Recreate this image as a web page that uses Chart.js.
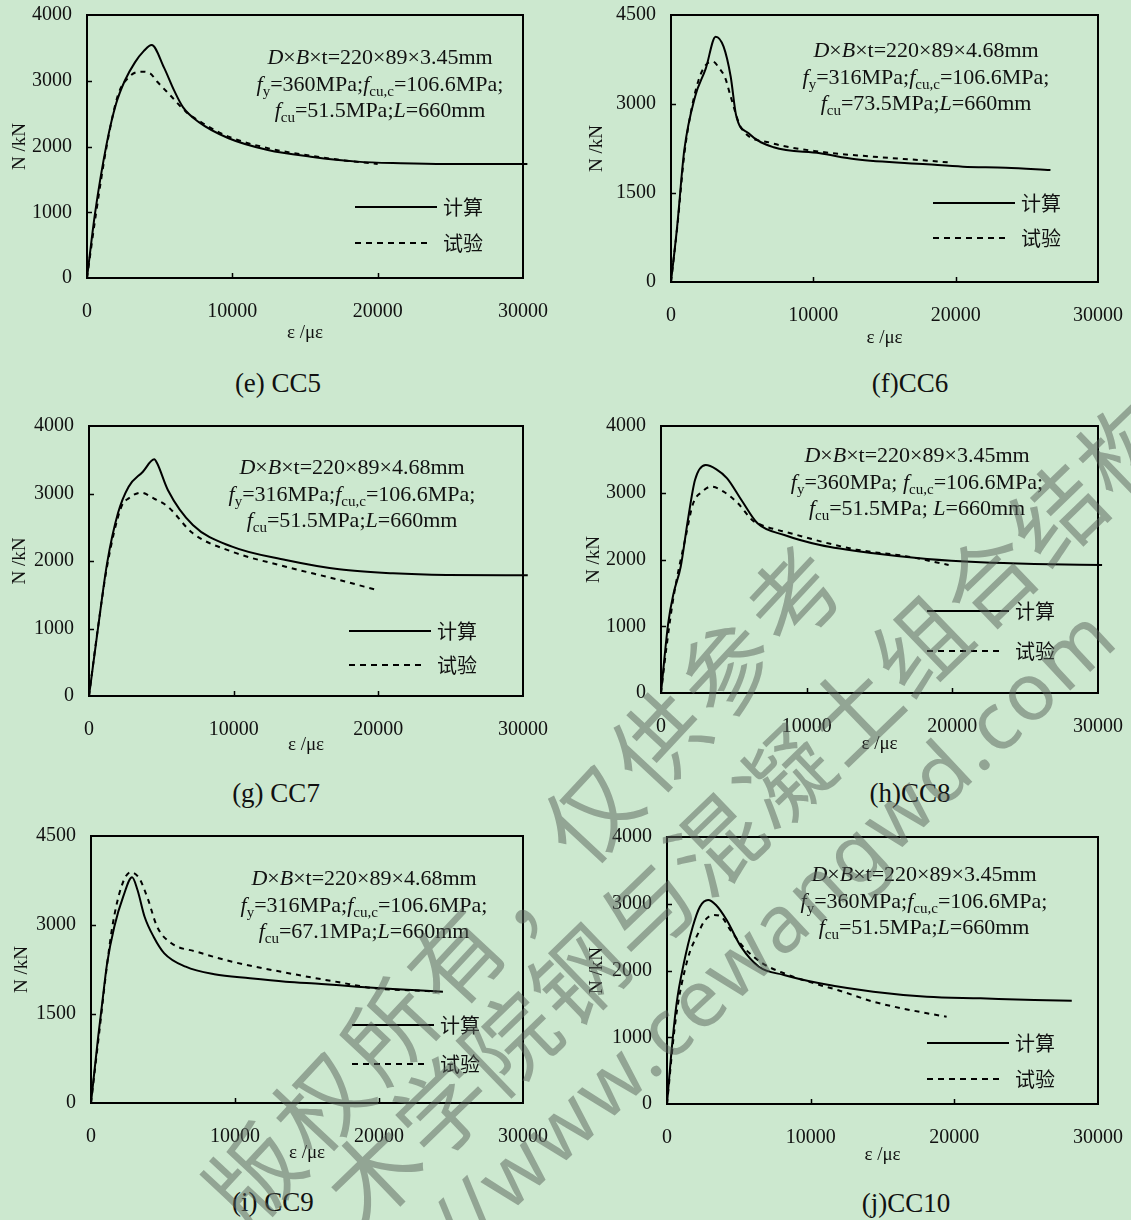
<!DOCTYPE html>
<html><head><meta charset="utf-8">
<script src="https://cdn.jsdelivr.net/npm/chart.js@4.4.0/dist/chart.umd.min.js"></script>
<style>
html,body{margin:0;padding:0;background:#CCE8CF;}
#page{position:relative;width:1131px;height:1220px;overflow:hidden;background:#CCE8CF;}
canvas{position:absolute;}
.cap{position:absolute;font-family:"Liberation Serif";font-size:27px;color:#111;transform:translate(-50%,-50%);white-space:nowrap;line-height:1;}
.wm{position:absolute;color:rgba(88,98,90,0.5);white-space:nowrap;pointer-events:none;line-height:1;z-index:5;font-weight:normal;}
</style></head>
<body><div id="page"></div>
<script>
// ---------- data ----------
const seriesNames = ['计算', '试验'];
const strainTicks = [0, 10000, 20000, 30000];
const loadTicks4000 = [0, 1000, 2000, 3000, 4000];
const loadTicks4500 = [0, 1500, 3000, 4500];
const panelCaptions = ['(e) CC5', '(f)CC6', '(g) CC7', '(h)CC8', '(i) CC9', '(j)CC10'];
const xTitle = 'ε /με';
const yTitle = 'N /kN';

const cc5Calc = [[0,0],[550,980],[1355,2044],[2000,2650],[2600,3000],[3300,3280],[3900,3450],[4450,3544],[5300,3200],[6000,2850],[6600,2600],[7700,2370],[9740,2125],[12440,1947],[15400,1845],[18580,1770],[21600,1745],[24700,1734],[30300,1734]];
const cc5Test = [[0,0],[600,950],[1350,2000],[2130,2780],[2900,3060],[3720,3138],[4340,3113],[4820,2988],[5810,2760],[6800,2530],[8000,2350],[9740,2150],[12440,1975],[15400,1860],[18000,1780],[20000,1735]];

const cc6Calc = [[0,0],[430,930],[935,2225],[1690,3123],[2440,3595],[3140,4135],[3695,3966],[4195,3460],[4570,2815],[5450,2506],[7210,2270],[10470,2169],[12980,2068],[17990,1983],[20510,1943],[23520,1927],[26660,1888]];
const cc6Test = [[0,0],[450,950],[935,2150],[1430,2900],[1940,3405],[2440,3657],[2940,3713],[3400,3600],[3820,3433],[4195,3123],[4950,2590],[6960,2348],[10470,2196],[14230,2112],[17990,2045],[19700,2011]];

const cc7Calc = [[0,0],[636,1027],[1250,1966],[2000,2706],[2740,3101],[3725,3323],[4510,3506],[4710,3447],[5450,3052],[7180,2533],[9890,2212],[13600,2015],[17300,1877],[21010,1817],[24700,1793],[30330,1788]];
const cc7Test = [[0,0],[600,980],[1250,1920],[2240,2805],[2740,2928],[3595,3012],[4465,2928],[5450,2805],[7180,2410],[9890,2138],[13600,1916],[17300,1719],[19890,1570]];

const cc8Calc = [[0,0],[494,1044],[865,1494],[1352,1892],[1846,2592],[2334,3191],[3069,3416],[3803,3351],[4538,3216],[5520,2891],[6625,2542],[8465,2367],[10915,2217],[14595,2092],[18270,2007],[21950,1958],[25630,1933],[30280,1918]];
const cc8Test = [[0,0],[410,745],[865,1443],[1696,2342],[2210,2842],[2822,3016],[3440,3091],[4298,3016],[5280,2842],[6254,2592],[6625,2542],[8952,2390],[13366,2150],[16800,2050],[19745,1918]];

const cc9Calc = [[0,0],[500,1117],[750,1623],[1118,2354],[1618,2972],[2236,3477],[2854,3804],[3229,3590],[3722,3140],[4347,2803],[5090,2523],[6576,2297],[8562,2169],[11040,2102],[13520,2045],[16000,2006],[18480,1961],[20965,1921],[24440,1876]];
const cc9Test = [[0,0],[625,1300],[1100,2300],[1500,3000],[2111,3646],[2736,3888],[3354,3787],[3972,3422],[4590,2972],[5583,2692],[7320,2551],[9800,2382],[13520,2197],[17240,2034],[19720,1933],[22000,1900],[24000,1880]];

const cc10Calc = [[0,0],[300,760],[669,1508],[1171,2108],[1791,2656],[2293,2956],[2864,3056],[3408,2981],[4153,2757],[5150,2357],[6397,2057],[8139,1933],[10627,1808],[14362,1683],[18091,1608],[21826,1583],[25561,1558],[28174,1548]];
const cc10Test = [[0,0],[600,1258],[1422,2157],[2167,2557],[2662,2757],[3282,2831],[3784,2806],[4404,2607],[5401,2332],[6648,2108],[8139,1958],[10627,1783],[11874,1708],[14362,1533],[18091,1359],[19464,1308]];

const notes5 = ['*D*×*B*×t=220×89×3.45mm', '*f*_{y}=360MPa;*f*_{cu,c}=106.6MPa;', '*f*_{cu}=51.5MPa;*L*=660mm'];
const notes6 = ['*D*×*B*×t=220×89×4.68mm', '*f*_{y}=316MPa;*f*_{cu,c}=106.6MPa;', '*f*_{cu}=73.5MPa;*L*=660mm'];
const notes7 = ['*D*×*B*×t=220×89×4.68mm', '*f*_{y}=316MPa;*f*_{cu,c}=106.6MPa;', '*f*_{cu}=51.5MPa;*L*=660mm'];
const notes8 = ['*D*×*B*×t=220×89×3.45mm', '*f*_{y}=360MPa; *f*_{cu,c}=106.6MPa;', '*f*_{cu}=51.5MPa; *L*=660mm'];
const notes9 = ['*D*×*B*×t=220×89×4.68mm', '*f*_{y}=316MPa;*f*_{cu,c}=106.6MPa;', '*f*_{cu}=67.1MPa;*L*=660mm'];
const notes10 = ['*D*×*B*×t=220×89×3.45mm', '*f*_{y}=360MPa;*f*_{cu,c}=106.6MPa;', '*f*_{cu}=51.5MPa;*L*=660mm'];

const watermarkLines = ['版权所有，仅供参考', '木学院钢与混凝土组合结构', '//www.cewangwd.com'];

// ---------- layout (page pixels) ----------
const panels = [
  {calc:cc5Calc, test:cc5Test, yt:loadTicks4000, notes:notes5, cap:panelCaptions[0],
   cv:[0,0,560,360], plot:[87,15,523,278], xTY:333, yTX:20, ann:[380,57], leg:[355,207,243], capPos:[278,383]},
  {calc:cc6Calc, test:cc6Test, yt:loadTicks4500, notes:notes6, cap:panelCaptions[1],
   cv:[575,0,556,360], plot:[671,15,1098,282], xTY:338, yTX:597, ann:[926,50], leg:[933,203,238], capPos:[910,383]},
  {calc:cc7Calc, test:cc7Test, yt:loadTicks4000, notes:notes7, cap:panelCaptions[2],
   cv:[0,405,560,360], plot:[89,426,523,696], xTY:745, yTX:20, ann:[352,467], leg:[349,631,665], capPos:[276,793]},
  {calc:cc8Calc, test:cc8Test, yt:loadTicks4000, notes:notes8, cap:panelCaptions[3],
   cv:[575,405,556,360], plot:[661,426,1098,693], xTY:744, yTX:594, ann:[917,455], leg:[927,611,651], capPos:[910,793]},
  {calc:cc9Calc, test:cc9Test, yt:loadTicks4500, notes:notes9, cap:panelCaptions[4],
   cv:[0,815,560,360], plot:[91,836,523,1103], xTY:1153, yTX:22, ann:[364,878], leg:[352,1025,1064], capPos:[273,1202]},
  {calc:cc10Calc, test:cc10Test, yt:loadTicks4000, notes:notes10, cap:panelCaptions[5],
   cv:[575,815,556,360], plot:[667,837,1098,1104], xTY:1155, yTX:597, ann:[924,874], leg:[927,1043,1079], capPos:[906,1203]}
];

const SERIF = "'Liberation Serif', 'Times New Roman', serif";
Chart.defaults.font.family = SERIF;
Chart.defaults.color = '#111';

function parseRich(str) {
  const out = [];
  const re = /\*([^*]+)\*|_\{([^}]+)\}|([^*_]+)/g;
  let m;
  while ((m = re.exec(str))) {
    if (m[1] !== undefined) out.push({t:m[1], i:true});
    else if (m[2] !== undefined) out.push({t:m[2], sub:true});
    else out.push({t:m[3]});
  }
  return out;
}
function drawRich(ctx, str, cx, cy, size) {
  const segs = parseRich(str).map(s => {
    const fs = s.sub ? Math.round(size * 0.68) : size;
    const font = (s.i ? 'italic ' : '') + fs + 'px ' + SERIF;
    ctx.font = font;
    return {t:s.t, font, w:ctx.measureText(s.t).width, dy: s.sub ? size * 0.22 : 0};
  });
  const total = segs.reduce((a, s) => a + s.w, 0);
  let x = cx - total / 2;
  const base = cy + size * 0.34;
  ctx.textBaseline = 'alphabetic';
  ctx.textAlign = 'left';
  segs.forEach(s => { ctx.font = s.font; ctx.fillText(s.t, x, base + s.dy); x += s.w; });
}

const decor = {
  id: 'decor',
  afterDatasetsDraw(chart, args, o) {
    const {ctx, chartArea:a, scales:{x, y}} = chart;
    ctx.save();
    ctx.strokeStyle = '#000';
    ctx.lineWidth = 2;
    ctx.setLineDash([]);
    ctx.strokeRect(a.left, a.top, a.right - a.left, a.bottom - a.top);
    ctx.lineWidth = 1.5;
    ctx.beginPath();
    y.ticks.forEach(t => {
      if (t.value <= y.min || t.value >= y.max) return;
      const py = Math.round(y.getPixelForValue(t.value)) + 0.5;
      ctx.moveTo(a.left, py); ctx.lineTo(a.left + 5, py);
    });
    x.ticks.forEach(t => {
      if (t.value <= x.min || t.value >= x.max) return;
      const px = Math.round(x.getPixelForValue(t.value)) + 0.5;
      ctx.moveTo(px, a.bottom); ctx.lineTo(px, a.bottom - 5);
    });
    ctx.stroke();
    // annotation
    ctx.fillStyle = '#111';
    o.notes.forEach((line, k) => drawRich(ctx, line, o.ann[0], o.ann[1] + k * 26.5, 22));
    // legend
    const [lx, ly1, ly2] = o.leg;
    ctx.lineWidth = 2;
    ctx.beginPath(); ctx.moveTo(lx, ly1); ctx.lineTo(lx + 82, ly1); ctx.stroke();
    ctx.setLineDash([6, 5]);
    ctx.beginPath(); ctx.moveTo(lx, ly2); ctx.lineTo(lx + 76, ly2); ctx.stroke();
    ctx.setLineDash([]);
    ctx.font = "20px 'Noto Sans CJK SC'";
    ctx.textBaseline = 'middle';
    ctx.textAlign = 'left';
    ctx.fillText(o.names[0], lx + 88, ly1);
    ctx.fillText(o.names[1], lx + 88, ly2);
    ctx.restore();
  }
};

const page = document.getElementById('page');
const LH = 19 * 1.2;
const plainNum = v => String(v);

panels.forEach(p => {
  const [cx, cy, cw, ch] = p.cv;
  const [pl, pt, pr, pb] = p.plot;
  const cvs = document.createElement('canvas');
  cvs.width = cw; cvs.height = ch;
  cvs.style.left = cx + 'px'; cvs.style.top = cy + 'px';
  cvs.style.width = cw + 'px'; cvs.style.height = ch + 'px';
  page.appendChild(cvs);
  const yW = pl - cx, xH = cy + ch - pb;
  const ymax = p.yt[p.yt.length - 1];
  new Chart(cvs, {
    type: 'line',
    data: {
      datasets: [
        {label: seriesNames[0], data: p.calc.map(([a, b]) => ({x:a, y:b})), borderColor:'#000', borderWidth:2,
         pointRadius:0, fill:false, cubicInterpolationMode:'monotone', clip:false},
        {label: seriesNames[1], data: p.test.map(([a, b]) => ({x:a, y:b})), borderColor:'#000', borderWidth:2,
         borderDash:[5, 5], pointRadius:0, fill:false, cubicInterpolationMode:'monotone', clip:false}
      ]
    },
    options: {
      responsive:false, animation:false, devicePixelRatio:1,
      layout: {padding: {top: pt - cy, right: cx + cw - pr, left: 0, bottom: 0}},
      events: [],
      plugins: {
        legend: {display:false}, tooltip: {enabled:false},
        decor: {notes: p.notes, names: seriesNames,
                ann: [p.ann[0] - cx, p.ann[1] - cy],
                leg: [p.leg[0] - cx, p.leg[1] - cy, p.leg[2] - cy]}
      },
      scales: {
        x: {
          type:'linear', min:0, max:strainTicks[strainTicks.length - 1],
          afterBuildTicks: s => { s.ticks = strainTicks.map(v => ({value:v})); },
          ticks: {font:{size:20}, color:'#111', padding:22, maxRotation:0, minRotation:0, autoSkip:false, callback: plainNum},
          grid: {display:false, drawTicks:false}, border: {display:false},
          title: {display:true, text:xTitle, font:{size:19}, color:'#111',
                  padding:{top:0, bottom: cy + ch - p.xTY - LH / 2}},
          afterFit: s => { s.height = xH; s.paddingLeft = 0; s.paddingRight = 0; }
        },
        y: {
          type:'linear', min:0, max:ymax,
          afterBuildTicks: s => { s.ticks = p.yt.map(v => ({value:v})); },
          ticks: {font:{size:20}, color:'#111', padding:15, autoSkip:false, callback: plainNum},
          grid: {display:false, drawTicks:false}, border: {display:false},
          title: {display:true, text:yTitle, font:{size:19}, color:'#111',
                  padding:{top: p.yTX - cx - LH / 2, bottom:0}},
          afterFit: s => { s.width = yW; s.paddingTop = 0; s.paddingBottom = 0; }
        }
      }
    },
    plugins: [decor]
  });
  const cap = document.createElement('div');
  cap.className = 'cap';
  cap.textContent = p.cap;
  cap.style.left = p.capPos[0] + 'px';
  cap.style.top = p.capPos[1] + 'px';
  page.appendChild(cap);
});

// watermark overlay
const wmLayout = [
  {start:[250,1172], angle:-47, size:92, spacing:7, font:"'Noto Sans CJK SC'"},
  {start:[370,1170], angle:-44, size:92, spacing:3, font:"'Noto Sans CJK SC'"},
  {start:[440,1236], angle:-43, size:80, spacing:3, font:"'Noto Sans', 'Noto Sans CJK SC'", leftAnchor:true}
];
watermarkLines.forEach((txt, k) => {
  const w = wmLayout[k];
  const d = document.createElement('div');
  d.className = 'wm';
  d.textContent = txt;
  d.style.fontFamily = w.font;
  d.style.fontSize = w.size + 'px';
  d.style.letterSpacing = w.spacing + 'px';
  const ox = w.leftAnchor ? 0 : w.size / 2, oy = w.size / 2;
  d.style.left = (w.start[0] - ox) + 'px';
  d.style.top = (w.start[1] - oy) + 'px';
  d.style.transformOrigin = ox + 'px ' + oy + 'px';
  d.style.transform = 'rotate(' + w.angle + 'deg)';
  page.appendChild(d);
});
</script>
</body></html>
